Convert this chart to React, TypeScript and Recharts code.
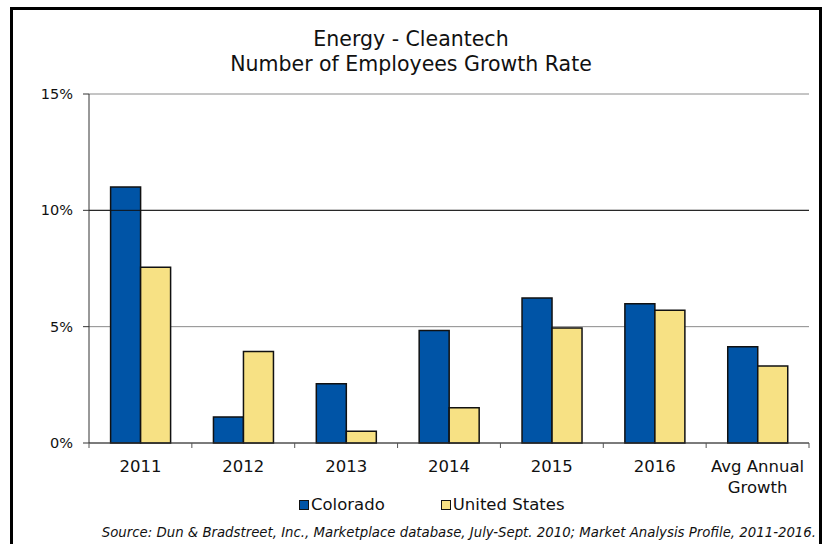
import { BarChart, Bar, XAxis, YAxis, CartesianGrid, ReferenceLine, Legend, Text } from 'recharts';

const categories = ['2011', '2012', '2013', '2014', '2015', '2016', 'Avg Annual Growth'];
const colorado = [11.0, 1.12, 2.55, 4.84, 6.23, 5.99, 4.14];
const unitedStates = [7.55, 3.93, 0.5, 1.52, 4.94, 5.71, 3.31];
const yTicks = [0, 5, 10, 15];

const data = categories.map((name, i) => ({
  name,
  colorado: colorado[i],
  unitedStates: unitedStates[i],
}));

const FONT = '"DejaVu Sans", Verdana, sans-serif';
const BLUE = '#0054A6';
const YELLOW = '#F7E184';
const TICK_LEN = 5;
const LABEL_GAP = 17;

// label under each category, tick marks on the category boundaries
const CategoryTick = (props: any) => {
  const { x, y, payload, index, visibleTicksCount } = props;
  const half = payload.offset ?? 0;
  const axisY = y - LABEL_GAP;
  return (
    <g>
      <line x1={x - half} x2={x - half} y1={axisY} y2={axisY + TICK_LEN} stroke="#555" />
      {index === visibleTicksCount - 1 && (
        <line x1={x + half} x2={x + half} y1={axisY} y2={axisY + TICK_LEN} stroke="#555" />
      )}
      <Text
        x={x}
        y={y}
        width={100}
        textAnchor="middle"
        verticalAnchor="start"
        lineHeight={21}
        fontSize={16.5}
        fontFamily={FONT}
        fill="#111"
      >
        {payload.value}
      </Text>
    </g>
  );
};

const LegendContent = (props: any) => {
  const { payload } = props;
  return (
    <div style={{ display: 'flex', fontFamily: FONT, fontSize: 16.5, color: '#111' }}>
      {payload.map((p: any, i: number) => (
        <div key={p.value} style={{ display: 'flex', alignItems: 'center', marginRight: i === 0 ? 56 : 0 }}>
          <span
            style={{
              display: 'inline-block',
              width: 8,
              height: 8,
              background: p.color,
              border: '1.5px solid #111',
              marginRight: 2,
            }}
          />
          <span>{p.value}</span>
        </div>
      ))}
    </div>
  );
};

export default function App() {
  return (
    <div style={{ position: 'relative', width: 822, height: 544, overflow: 'hidden', background: '#fff' }}>
      <style>{'body{margin:0}'}</style>
      <div
        style={{
          position: 'absolute',
          left: 10,
          top: 7,
          width: 812,
          height: 600,
          border: '3px solid #000',
          boxSizing: 'border-box',
        }}
      />
      <div
        style={{
          position: 'absolute',
          left: 0,
          top: 27,
          width: 822,
          textAlign: 'center',
          fontFamily: FONT,
          fontSize: 20.5,
          lineHeight: '25px',
          color: '#111',
        }}
      >
        <div>Energy - Cleantech</div>
        <div>Number of Employees Growth Rate</div>
      </div>
      <div style={{ position: 'absolute', left: 0, top: 0 }}>
        <BarChart
          width={822}
          height={544}
          data={data}
          margin={{ top: 94, right: 13, bottom: 41, left: 29 }}
          barCategoryGap="21%"
          barGap={0}
        >
          <CartesianGrid vertical={false} stroke="#8a8a8a" />
          <ReferenceLine y={10} stroke="#111" />
          <XAxis
            dataKey="name"
            tick={<CategoryTick />}
            tickLine={false}
            axisLine={{ stroke: '#333' }}
            tickSize={0}
            tickMargin={LABEL_GAP}
            interval={0}
            height={60}
          />
          <YAxis
            domain={[0, 15]}
            ticks={yTicks}
            tickFormatter={(v: number) => `${v}%`}
            tick={{ fontFamily: FONT, fontSize: 14.5, fill: '#111' }}
            tickSize={6}
            tickMargin={10}
            axisLine={{ stroke: '#333' }}
            tickLine={{ stroke: '#333' }}
            width={60}
          />
          <YAxis yAxisId="right" orientation="right" tick={false} tickLine={false} axisLine={{ stroke: '#8a8a8a' }} width={0} />
          <Legend
            verticalAlign="middle"
            content={<LegendContent />}
            wrapperStyle={{ top: 495, left: 299, width: 300 }}
          />
          <Bar dataKey="colorado" name="Colorado" fill={BLUE} stroke="#111" strokeWidth={1.5} isAnimationActive={false} />
          <Bar dataKey="unitedStates" name="United States" fill={YELLOW} stroke="#111" strokeWidth={1.5} isAnimationActive={false} />
        </BarChart>
      </div>
      <div
        style={{
          position: 'absolute',
          right: 6,
          top: 525,
          fontFamily: FONT,
          fontStyle: 'italic',
          fontSize: 13.3,
          color: '#111',
          whiteSpace: 'nowrap',
        }}
      >
        Source: Dun &amp; Bradstreet, Inc., Marketplace database, July-Sept. 2010; Market Analysis Profile, 2011-2016.
      </div>
    </div>
  );
}
